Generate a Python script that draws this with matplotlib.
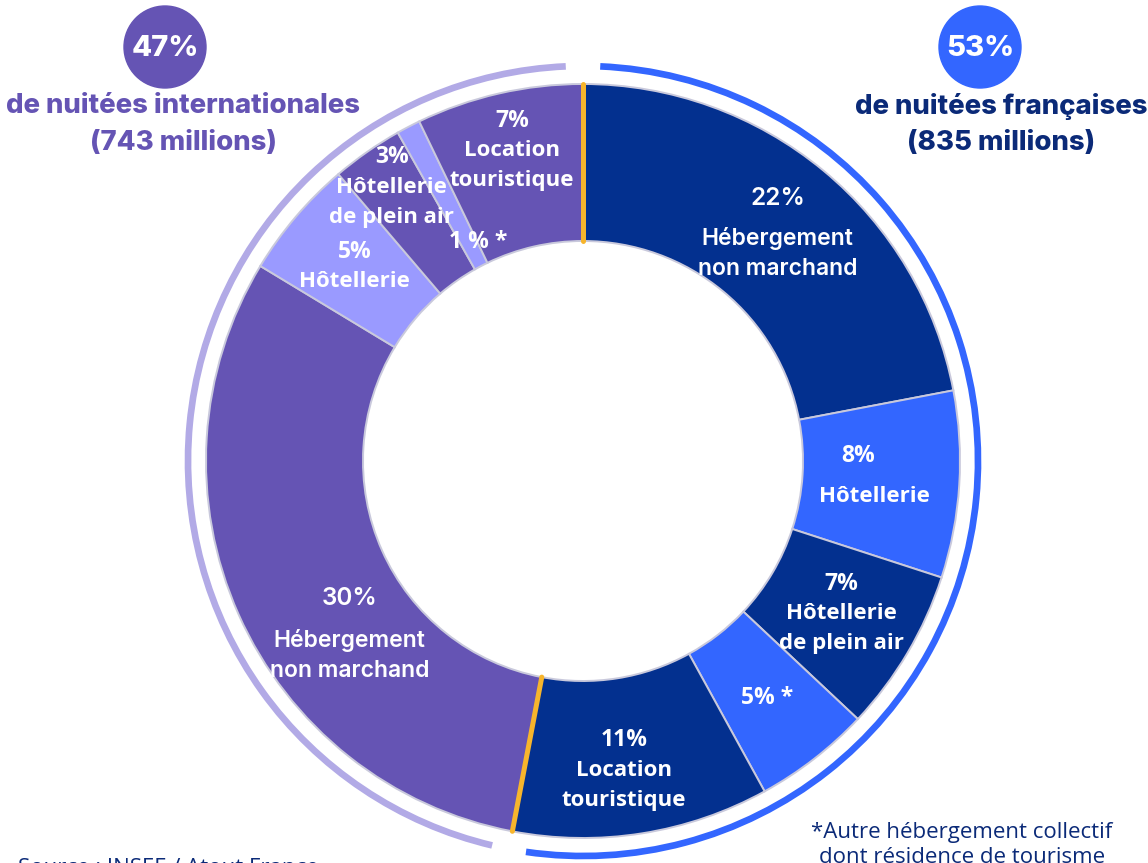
import numpy as np
import matplotlib
matplotlib.use("Agg")
import matplotlib.pyplot as plt
from matplotlib.patches import Arc, Circle

# ---- data -------------------------------------------------------------
group_names = ["de nuitées françaises", "de nuitées internationales"]
group_shares = [53, 47]             # % of all nights
group_nights = ["(835 millions)", "(743 millions)"]

french_labels = ["Hébergement\nnon marchand", "Hôtellerie",
                 "Hôtellerie\nde plein air", "", "Location\ntouristique"]
french_values = [22, 8, 7, 5, 11]
french_marks = ["", "", "", " *", ""]

intl_labels = ["Hébergement\nnon marchand", "Hôtellerie",
               "Hôtellerie\nde plein air", "", "Location\ntouristique"]
intl_values = [30, 5, 3, 1, 7]
intl_marks = ["", "", "", " *", ""]

source_text = "Source : INSEE / Atout France"
note_text = "*Autre hébergement collectif\ndont résidence de tourisme"

# ---- style ------------------------------------------------------------
NAVY = "#03308f"
BLUE = "#3366ff"
PURPLE = "#6554b4"
LILAC = "#9a9aff"
ARC_LILAC = "#b2aae6"
ORANGE = "#f7b52c"
TEXT_NAVY = "#0b2a78"

french_colors = [NAVY, BLUE, NAVY, BLUE, NAVY]
intl_colors = [PURPLE, LILAC, PURPLE, LILAC, PURPLE]

W, H = 1148, 863
fig = plt.figure(figsize=(W / 100, H / 100), dpi=100)
ax = fig.add_axes([0, 0, 1, 1])

cx, cy = 583, 461
R_OUT, R_IN = 377, 220
R_ARC = 395

# each group fills its own share of the ring; segments proportional inside
fr_sizes = [v * group_shares[0] / sum(french_values) for v in french_values]
in_sizes = [v * group_shares[1] / sum(intl_values) for v in intl_values]
sizes = fr_sizes + in_sizes
colors = french_colors + intl_colors

# y axis is inverted, so a counter-clockwise pie appears clockwise
wedges, _ = ax.pie(sizes, colors=colors, startangle=-90, counterclock=True,
                   radius=R_OUT, center=(cx, cy),
                   wedgeprops=dict(width=R_OUT - R_IN, edgecolor="#c9c9dc",
                                   linewidth=1.4))
ax.set_xlim(0, W)
ax.set_ylim(H, 0)
ax.set_aspect("equal")
ax.axis("off")


def polar(a_cw, r):
    """Point at clockwise angle from 12 o'clock (degrees) and radius r."""
    t = np.deg2rad(a_cw)
    return cx + r * np.sin(t), cy - r * np.cos(t)


# orange separators between the two groups
split = 360 * group_shares[0] / 100
for a in (0, split):
    x0, y0 = polar(a, R_IN)
    x1, y1 = polar(a, R_OUT)
    ax.plot([x0, x1], [y0, y1], color=ORANGE, lw=3.6, solid_capstyle="round",
            zorder=5)

# outer arcs marking each group (Arc angles are measured in screen space
# with the inverted y axis: theta grows clockwise from 3 o'clock)
gap = 2.5
ax.add_patch(Arc((cx, cy), 2 * R_ARC, 2 * R_ARC, theta1=-90 + gap,
                 theta2=-90 + split - gap, color=BLUE, lw=4.8))
ax.add_patch(Arc((cx, cy), 2 * R_ARC, 2 * R_ARC, theta1=-90 + split + gap,
                 theta2=270 - gap, color=ARC_LILAC, lw=4.8))

# segment labels: optional (angle, radius) placement per segment
LF = dict(family="Open Sans", weight="bold", color="white", ha="center",
          va="center")
GEO = {0, 5}                       # the two large segments use a rounder face
overrides = {0: (40.8, 298), 1: (93.0, 292), 4: (172.5, 312),
             5: (233, 292), 7: (None, 334), 8: (334.4, 243), 9: (None, 318)}
pct_gap = {0: 40, 1: 40, 5: 42}
labels = french_labels + intl_labels
values = french_values + intl_values
marks = french_marks + intl_marks
start = 0
for i, s in enumerate(sizes):
    ang = 360 * s / 100
    mid = start + ang / 2
    start += ang
    r = 300
    if i in overrides:
        a_o, r_o = overrides[i]
        mid = a_o if a_o is not None else mid
        r = r_o
    pct = f"{values[i]}%{marks[i]}" if i != 8 else f"{values[i]} %{marks[i]}"
    lines = [pct] + ([l for l in labels[i].split("\n")] if labels[i] else [])
    g = pct_gap.get(i, 30)
    offs = [0] + [g + 30 * k for k in range(len(lines) - 1)]
    mean = np.mean(offs)
    x, y = polar(mid, r)
    for k, (line, o) in enumerate(zip(lines, offs)):
        if i in GEO:
            ax.text(x, y + o - mean, line, color="white", ha="center",
                    va="center", family="Inter", weight="semibold",
                    fontsize=17.5 if k == 0 else 16.5)
        else:
            dx = -16 if (i == 1 and k == 0) else 0
            ax.text(x + dx, y + o - mean, line, fontsize=16.5 if k == 0 else 16,
                    **LF)

# group headers
HF = dict(family="Inter", weight="heavy", ha="center", va="center")
for (px, py), share, name, nights, col, tcol in [
        ((980, 47), group_shares[0], group_names[0], group_nights[0], BLUE, TEXT_NAVY),
        ((165, 47), group_shares[1], group_names[1], group_nights[1], PURPLE, PURPLE)]:
    ax.add_patch(Circle((px, py), 41, color=col, zorder=3))
    ax.text(px, py + 1, f"{share}%", color="white", fontsize=21, zorder=4, **HF)
    tx = 1001 if col == BLUE else 183
    ax.text(tx, 106, name, color=tcol, fontsize=19.8, **HF)
    ax.text(tx, 143, nights, color=tcol, fontsize=19.8, **HF)

ax.text(18, 858, source_text, family="Open Sans", fontsize=16,
        color=TEXT_NAVY, ha="left", va="top")
ax.text(962, 822, note_text, family="Open Sans", fontsize=16,
        color=TEXT_NAVY, ha="center", va="top", linespacing=1.25)

fig.savefig("out.png", dpi=100)
